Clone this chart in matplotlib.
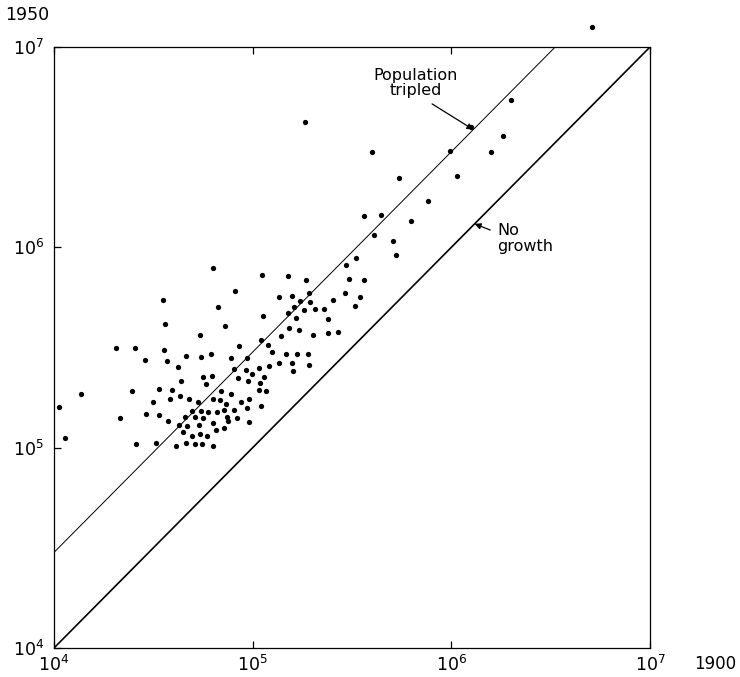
import numpy as np
import matplotlib
matplotlib.use("Agg")
import matplotlib.pyplot as plt

# Population of cities, 1900 (x) against 1950 (y)
pop_1900 = [
    5.13e6, 2.00e6, 1.84e5, 1.26e6, 1.81e6, 4.00e5, 9.89e5, 1.59e6, 5.47e5, 1.07e6,
    7.66e5, 3.65e5, 4.44e5, 6.29e5, 4.09e5, 5.10e5, 5.28e5, 2.96e5, 3.32e5, 1.12e5,
    1.51e5, 1.86e5, 3.06e5, 3.65e5, 1.36e5, 1.58e5, 1.93e5, 1.73e5, 1.62e5, 1.95e5,
    1.82e5, 2.06e5, 2.29e5, 2.54e5, 2.92e5, 3.48e5, 3.28e5, 1.51e5, 1.66e5, 2.40e5,
    1.13e5, 1.53e5, 1.71e5, 1.39e5, 2.02e5, 2.40e5, 2.70e5, 1.10e5, 1.20e5, 1.25e5,
    1.47e5, 1.68e5, 1.90e5, 1.08e5, 1.21e5, 1.36e5, 1.58e5, 1.93e5, 1.60e5, 9.94e4,
    1.14e5, 1.09e5, 9.49e4, 1.08e5, 1.17e5, 9.60e4, 1.10e5, 9.60e4, 6.32e4, 8.16e4,
    3.54e4, 6.70e4, 3.62e4, 7.27e4, 5.44e4, 8.55e4, 2.05e4, 2.56e4, 3.58e4, 2.87e4,
    3.71e4, 4.62e4, 5.50e4, 6.18e4, 7.79e4, 9.38e4, 4.22e4, 8.07e4, 9.27e4, 5.63e4,
    6.25e4, 8.45e4, 4.36e4, 5.83e4, 1.37e4, 2.47e4, 3.38e4, 3.93e4, 6.94e4, 7.79e4,
    3.15e4, 3.84e4, 4.31e4, 4.79e4, 5.31e4, 6.32e4, 6.86e4, 7.35e4, 8.75e4, 1.06e4,
    2.15e4, 2.91e4, 3.38e4, 3.75e4, 4.26e4, 4.57e4, 4.96e4, 5.13e4, 5.50e4, 5.63e4,
    4.68e4, 5.38e4, 4.47e4, 4.96e4, 5.44e4, 5.90e4, 1.14e4, 2.59e4, 3.26e4, 4.12e4,
    4.62e4, 5.13e4, 5.57e4, 6.32e4, 5.97e4, 6.62e4, 7.18e4, 8.07e4, 9.38e4, 6.32e4,
    7.44e4, 7.53e4, 8.36e4, 6.55e4, 7.18e4,
]
pop_1950 = [
    1.26e7, 5.43e6, 4.22e6, 3.98e6, 3.59e6, 2.99e6, 3.02e6, 2.99e6, 2.21e6, 2.26e6,
    1.70e6, 1.43e6, 1.45e6, 1.36e6, 1.15e6, 1.07e6, 9.12e5, 8.13e5, 8.81e5, 7.24e5,
    7.16e5, 6.84e5, 6.92e5, 6.84e5, 5.62e5, 5.69e5, 5.89e5, 5.37e5, 5.01e5, 5.31e5,
    4.84e5, 4.95e5, 4.90e5, 5.43e5, 5.89e5, 5.62e5, 5.07e5, 4.68e5, 4.42e5, 4.37e5,
    4.52e5, 3.94e5, 3.85e5, 3.59e5, 3.67e5, 3.72e5, 3.80e5, 3.43e5, 3.24e5, 2.99e5,
    2.92e5, 2.92e5, 2.92e5, 2.51e5, 2.57e5, 2.66e5, 2.66e5, 2.60e5, 2.40e5, 2.32e5,
    2.26e5, 2.11e5, 2.14e5, 1.95e5, 1.91e5, 1.74e5, 1.62e5, 1.35e5, 7.85e5, 6.03e5,
    5.43e5, 5.01e5, 4.12e5, 4.07e5, 3.67e5, 3.20e5, 3.16e5, 3.13e5, 3.09e5, 2.75e5,
    2.72e5, 2.88e5, 2.82e5, 2.92e5, 2.79e5, 2.79e5, 2.54e5, 2.48e5, 2.43e5, 2.26e5,
    2.29e5, 2.24e5, 2.14e5, 2.07e5, 1.86e5, 1.91e5, 1.97e5, 1.93e5, 1.91e5, 1.86e5,
    1.70e5, 1.74e5, 1.82e5, 1.74e5, 1.70e5, 1.74e5, 1.72e5, 1.66e5, 1.70e5, 1.60e5,
    1.41e5, 1.48e5, 1.46e5, 1.36e5, 1.30e5, 1.43e5, 1.53e5, 1.43e5, 1.53e5, 1.40e5,
    1.29e5, 1.30e5, 1.20e5, 1.15e5, 1.17e5, 1.15e5, 1.12e5, 1.04e5, 1.06e5, 1.02e5,
    1.05e5, 1.04e5, 1.04e5, 1.02e5, 1.51e5, 1.50e5, 1.55e5, 1.55e5, 1.57e5, 1.33e5,
    1.43e5, 1.36e5, 1.41e5, 1.23e5, 1.26e5,
]

decades = [1e4, 1e5, 1e6, 1e7]
decade_labels = [r"$10^{4}$", r"$10^{5}$", r"$10^{6}$", r"$10^{7}$"]

plt.rcParams["font.family"] = "DejaVu Sans"
plt.rcParams["mathtext.fontset"] = "dejavusans"

W, H = 740, 677
fig = plt.figure(figsize=(W / 100, H / 100), dpi=100)
ax = fig.add_axes([54 / W, 1 - 648 / H, (650 - 54) / W, (648 - 47) / H])
ax.set_xscale("log")
ax.set_yscale("log")
ax.set_xlim(1e4, 1e7)
ax.set_ylim(1e4, 1e7)

# reference lines: no growth (y = x) and tripled (y = 3x)
line_x = np.array([1e4, 1e7])
ax.plot(line_x, line_x, color="k", lw=1.2)
trip_x = np.array([1e4, 1e7 / 3])
ax.plot(trip_x, 3 * trip_x, color="k", lw=0.7)

ax.plot(pop_1900, pop_1950, "o", color="k", ms=3.8, mew=0, clip_on=False)

for s in ax.spines.values():
    s.set_linewidth(0.9)
ax.set_xticks(decades)
ax.set_xticklabels(decade_labels)
ax.set_yticks(decades)
ax.set_yticklabels(decade_labels)
ax.minorticks_off()
ax.tick_params(which="both", direction="in", length=5, width=0.9, top=True,
               labelsize=12.5, pad=5)
ax.tick_params(axis="y", pad=7)

# annotations
ax.annotate("", xy=(1.29e6, 3.87e6), xytext=(8.0e5, 5.2e6),
            arrowprops=dict(arrowstyle="-|>", color="k", lw=0.9, mutation_scale=9,
                            shrinkA=0, shrinkB=0))
ax.text(6.6e5, 6.6e6, "Population\ntripled", ha="center", va="center",
        fontsize=11.5, linespacing=1.05)
ax.annotate("", xy=(1.31e6, 1.31e6), xytext=(1.57e6, 1.22e6),
            arrowprops=dict(arrowstyle="-|>", color="k", lw=0.9, mutation_scale=9,
                            shrinkA=0, shrinkB=0))
ax.text(1.71e6, 1.11e6, "No\ngrowth", ha="left", va="center",
        fontsize=11.5, linespacing=1.05)

fig.text(5 / W, 1 - 15 / H, "1950", ha="left", va="center", fontsize=12.5)
fig.text(736 / W, 1 - 664 / H, "1900", ha="right", va="center", fontsize=12)

fig.savefig("out.png", dpi=100)
